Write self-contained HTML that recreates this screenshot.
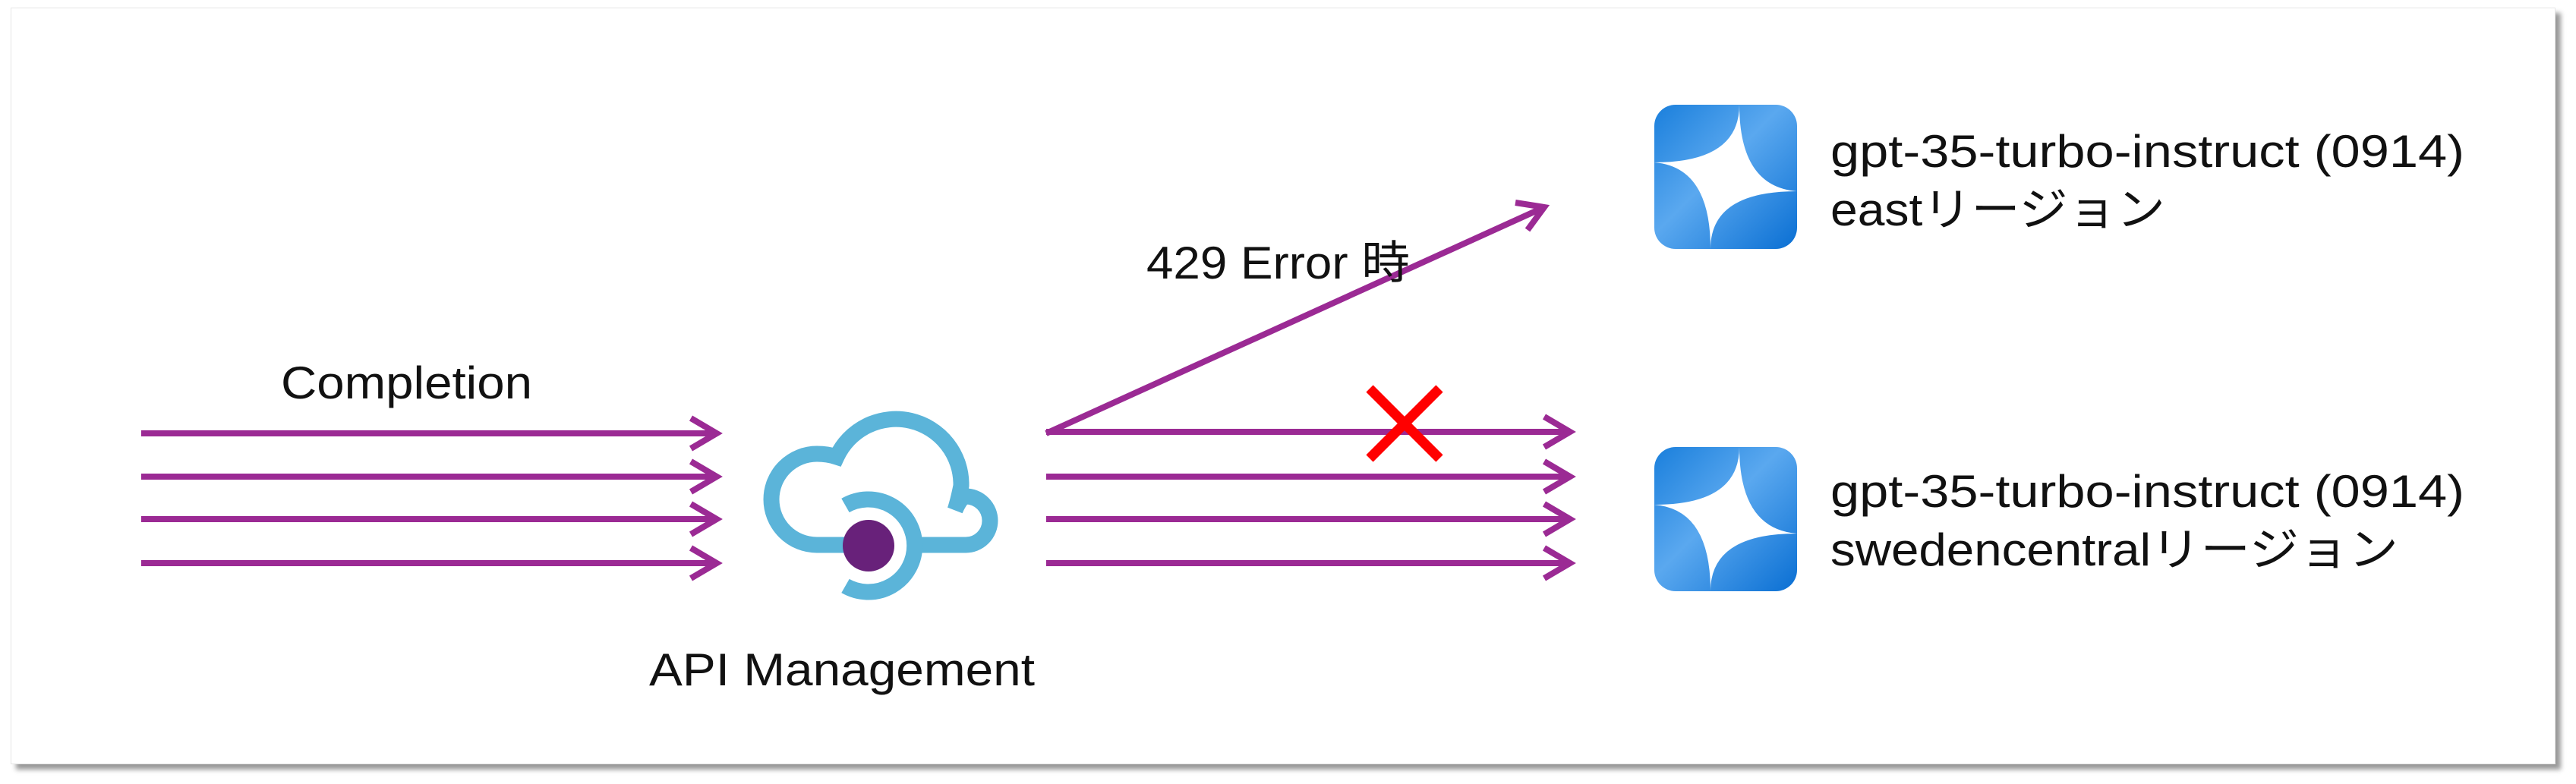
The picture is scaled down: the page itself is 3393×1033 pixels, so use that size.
<!DOCTYPE html>
<html><head><meta charset="utf-8"><style>
html,body{margin:0;padding:0;background:#fff;width:3393px;height:1033px;overflow:hidden}
.frame{position:absolute;left:14px;top:10px;width:3350px;height:995px;background:#fff;border:1px solid #e6e6e6;box-shadow:7px 7px 6px #9a9a9a}
svg{position:absolute;left:0;top:0}
text{font-family:"Liberation Sans","Noto Sans CJK JP",sans-serif;font-size:60px;fill:#111}
</style></head><body>
<div class="frame"></div>
<svg width="3393" height="1033" viewBox="0 0 3393 1033">
<defs>
<linearGradient id="g" x1="0" y1="0" x2="1" y2="1">
<stop offset="0" stop-color="#1a7fdc"/><stop offset="0.45" stop-color="#5aa8ef"/><stop offset="1" stop-color="#0a6fd3"/>
</linearGradient>
</defs>
<g stroke="#9b2a94" stroke-width="8" fill="none" stroke-linecap="butt">
<line x1="186" y1="571" x2="944" y2="571"/><polyline points="910,551 944,571 910,591"/>
<line x1="186" y1="628" x2="944" y2="628"/><polyline points="910,608 944,628 910,648"/>
<line x1="186" y1="684" x2="944" y2="684"/><polyline points="910,664 944,684 910,704"/>
<line x1="186" y1="742" x2="944" y2="742"/><polyline points="910,722 944,742 910,762"/>
<line x1="1378" y1="569" x2="2068" y2="569"/><polyline points="2034,549 2068,569 2034,589"/>
<line x1="1378" y1="628" x2="2068" y2="628"/><polyline points="2034,608 2068,628 2034,648"/>
<line x1="1378" y1="684" x2="2068" y2="684"/><polyline points="2034,664 2068,684 2034,704"/>
<line x1="1378" y1="742" x2="2068" y2="742"/><polyline points="2034,722 2068,742 2034,762"/>
<line x1="1378" y1="571" x2="2034" y2="273"/><polyline points="1996,267 2034,273 2012,303"/>
</g>
<g stroke="#f00" stroke-width="13" stroke-linecap="butt">
<line x1="1804" y1="512" x2="1896" y2="604"/><line x1="1896" y1="512" x2="1804" y2="604"/>
</g>
<g fill="none" stroke="#5bb4d9" stroke-width="21">
<path d="M1112,718 H1076 A60,60 0 0 1 1076,598 Q1090,598 1102,602 A86,86 0 0 1 1266,640 Q1262,660 1258,672 Q1266,654 1272,654 A32,32 0 0 1 1272,718 H1207"/>
<path d="M1113.5,666 A61,61 0 1 1 1113.5,772"/>
</g>
<circle cx="1144" cy="719" r="34" fill="#68217a"/>
<g transform="translate(2179,138)">
<rect width="188" height="190" rx="28" fill="url(#g)"/>
<path d="M112,0 Q112,108 188,114 Q74,114 74,190 Q74,82 0,76 Q112,76 112,0Z" fill="#fff"/>
</g>
<g transform="translate(2179,589)">
<rect width="188" height="190" rx="28" fill="url(#g)"/>
<path d="M112,0 Q112,108 188,114 Q74,114 74,190 Q74,82 0,76 Q112,76 112,0Z" fill="#fff"/>
</g>
<text x="2411" y="220" textLength="835" lengthAdjust="spacingAndGlyphs">gpt-35-turbo-instruct (0914)</text>
<text x="2411" y="297" textLength="441" lengthAdjust="spacingAndGlyphs">eastリージョン</text>
<text x="2411" y="668" textLength="835" lengthAdjust="spacingAndGlyphs">gpt-35-turbo-instruct (0914)</text>
<text x="2411" y="745" textLength="748" lengthAdjust="spacingAndGlyphs">swedencentralリージョン</text>
<text x="370" y="525" textLength="331" lengthAdjust="spacingAndGlyphs">Completion</text>
<text x="1510" y="367" textLength="347" lengthAdjust="spacingAndGlyphs">429 Error 時</text>
<text x="855" y="903" textLength="508" lengthAdjust="spacingAndGlyphs">API Management</text>
</svg>
</body></html>
